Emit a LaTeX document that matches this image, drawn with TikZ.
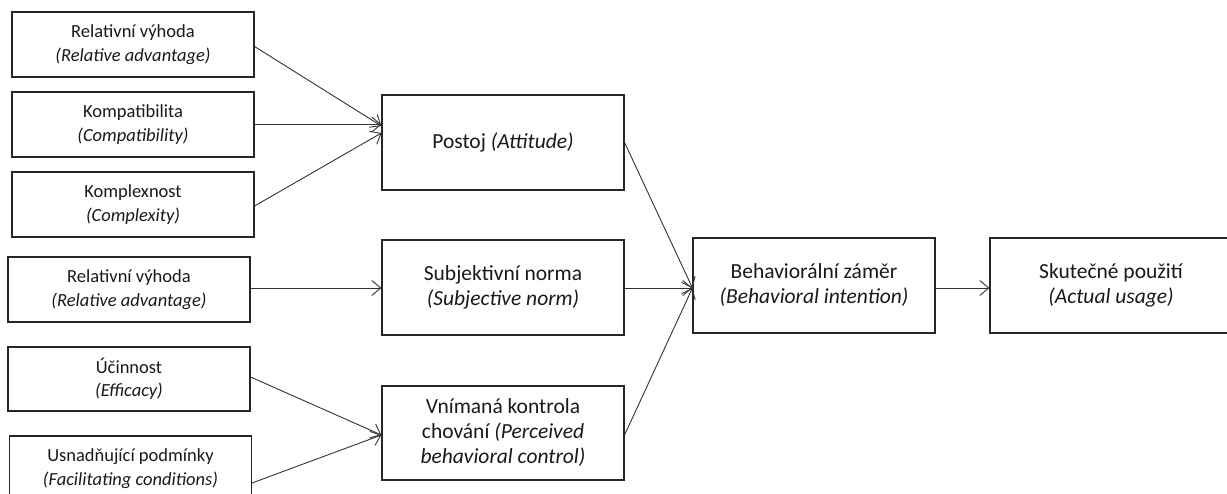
\documentclass[tikz,border=0pt]{standalone}
\usepackage{fontspec}
\setmainfont{Carlito}
\usetikzlibrary{arrows.meta}
\begin{document}
\begin{tikzpicture}[x=1pt,y=-1pt,
  box/.style={draw=black!85, line width=1.1pt, align=center, inner sep=0pt,
    minimum width=242pt, text=black!90},
  small/.style={box, minimum height=65pt, font=\fontsize{18.5}{23.5}\selectfont},
  big/.style={box, minimum height=95pt, font=\fontsize{21.5}{25}\selectfont},
  arr/.style={draw=black!80, line width=0.9pt, -{Straight Barb[length=9pt,width=15pt,line width=0.9pt]}}]
\useasboundingbox (0,0) rectangle (1227,493);

% input factors
\node[small] (b1) at (133,44.5) {Relativní výhoda\\\textit{(Relative advantage)}};
\node[small] (b2) at (133,124.5) {Kompatibilita\\\textit{(Compatibility)}};
\node[small] (b3) at (133,204.5) {Komplexnost\\\textit{(Complexity)}};
\node[small] (b4) at (129,289.5) {Relativní výhoda\\\textit{(Relative advantage)}};
\node[small, minimum height=64pt] (b5) at (129,379) {Účinnost\\\textit{(Efficacy)}};
\node[small] (b6) at (130.5,468.5) {Usnadňující podmínky\\\textit{(Facilitating conditions)}};

% TPB constructs
\node[big] (att) at (503,142.5) {Postoj \textit{(Attitude)}};
\node[big] (sn) at (503,287.5) {Subjektivní norma\\\textit{(Subjective norm)}};
\node[big, minimum height=94pt] (pbc) at (503,433) {Vnímaná kontrola\\chování \textit{(Perceived}\\\textit{behavioral control)}};
\node[big] (bi) at (814,285.5) {Behaviorální záměr\\\textit{(Behavioral intention)}};
\node[big] (use) at (1111,285.5) {Skutečné použití\\\textit{(Actual usage)}};

% connectors
\draw[arr] ([yshift=-2pt]b1.east) -- ([yshift=16.5pt]att.west);
\draw[arr] (b2.east) -- ([yshift=18pt]att.west);
\draw[arr] ([yshift=-1.5pt]b3.east) -- ([yshift=9.5pt]att.west);
\draw[arr] ([yshift=1.5pt]b4.east) -- ([yshift=-0.5pt]sn.west);
\draw[arr] ([yshift=2pt]b5.east) -- ([yshift=-2pt]pbc.west);
\draw[arr] ([yshift=-14.5pt]b6.east) -- ([yshift=-2pt]pbc.west);
\draw[arr] (att.east) -- ([yshift=-2.5pt]bi.west);
\draw[arr] ([yshift=-0.5pt]sn.east) -- ([yshift=-2.5pt]bi.west);
\draw[arr] ([yshift=-2pt]pbc.east) -- ([yshift=-2.5pt]bi.west);
\draw[arr] ([yshift=-2.5pt]bi.east) -- ([yshift=-2.5pt]use.west);
\end{tikzpicture}
\end{document}
